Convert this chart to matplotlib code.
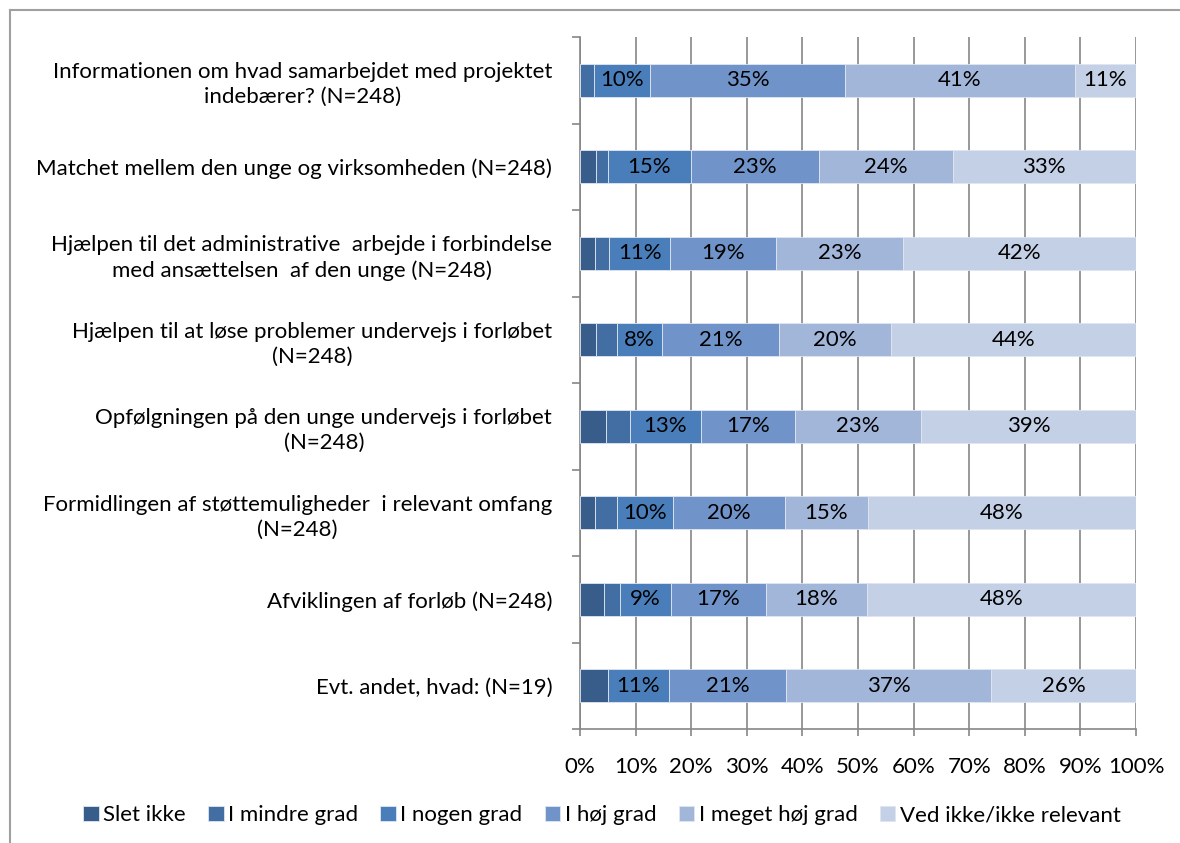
import matplotlib
matplotlib.use('Agg')
import matplotlib.pyplot as plt
from matplotlib.lines import Line2D
import numpy as np

plt.rcParams['font.family'] = ['Lato', 'DejaVu Sans']

categories = [
    'Informationen om hvad samarbejdet med projektet\nindebærer? (N=248)',
    'Matchet mellem den unge og virksomheden (N=248)',
    'Hjælpen til det administrative  arbejde i forbindelse\nmed ansættelsen  af den unge (N=248)',
    'Hjælpen til at løse problemer undervejs i forløbet\n(N=248)',
    'Opfølgningen på den unge undervejs i forløbet\n(N=248)',
    'Formidlingen af støttemuligheder  i relevant omfang\n(N=248)',
    'Afviklingen af forløb (N=248)',
    'Evt. andet, hvad: (N=19)',
]
series = ['Slet ikke', 'I mindre grad', 'I nogen grad', 'I høj grad',
          'I meget høj grad', 'Ved ikke/ikke relevant']

slet_ikke = [0.0, 2.9, 2.7, 2.9, 4.7, 2.7, 4.3, 5.0]
mindre_grad = [2.5, 2.1, 2.6, 3.8, 4.3, 4.0, 2.9, 0.0]
nogen_grad = [10, 15, 11, 8, 13, 10, 9, 11]
hoej_grad = [35, 23, 19, 21, 17, 20, 17, 21]
meget_hoej_grad = [41, 24, 23, 20, 23, 15, 18, 37]
ved_ikke = [11, 33, 42, 44, 39, 48, 48, 26]

colors = ['#385d8a', '#426ea3', '#4a7ebb', '#7094c9', '#a2b6d9', '#c4d0e6']

data = np.array([slet_ikke, mindre_grad, nogen_grad, hoej_grad,
                 meget_hoej_grad, ved_ikke], dtype=float)
# 100% stacked, like the original chart
shares = data / data.sum(axis=0) * 100

fs = 16

fig = plt.figure(figsize=(11.8, 8.43), dpi=100)
ax = fig.add_axes([0.4915, 0.1352, 0.4712, 0.8209])

y = np.arange(len(categories))
left = np.zeros(len(categories))
for i, name in enumerate(series):
    bars = ax.barh(y, shares[i], left=left, height=0.38, color=colors[i],
                   edgecolor='#dfe6f1', linewidth=0.6, label=name, zorder=3)
    for j, bar in enumerate(bars):
        if data[i, j] >= 7:
            ax.text(left[j] + shares[i, j] / 2, y[j], '{:.0f}%'.format(data[i, j]),
                    ha='center', va='center', fontsize=fs, color='black', zorder=4)
    left += shares[i]

ax.set_xlim(0, 100)
ax.set_ylim(len(categories) - 0.5, -0.5)
ax.set_xticks(np.arange(0, 101, 10))
ax.set_xticklabels(['{}%'.format(v) for v in range(0, 101, 10)], fontsize=fs)
ax.set_yticks(y)
ax.set_yticklabels(categories, fontsize=fs, multialignment='center', linespacing=1.3)
ax.set_yticks(np.arange(len(categories) + 1) - 0.5, minor=True)
ax.tick_params(axis='y', which='major', length=0, pad=20)
ax.tick_params(axis='y', which='minor', length=6, width=1.2, color='#868686')
ax.tick_params(axis='x', length=5, width=1.2, color='#868686', pad=15)

ax.grid(True, axis='x', color='#868686', linewidth=1.2, zorder=0)
for side in ['top', 'right']:
    ax.spines[side].set_visible(False)
for side in ['left', 'bottom']:
    ax.spines[side].set_color('#868686')
    ax.spines[side].set_linewidth(1.2)

fig.legend(loc='center', bbox_to_anchor=(0.51, 0.033), ncol=6, frameon=False,
           fontsize=fs, handlelength=0.7, handleheight=0.7, handletextpad=0.2,
           columnspacing=1.0)

# outer chart border
fig.add_artist(Line2D([10 / 1180, 1], [1 - 10 / 843, 1 - 10 / 843], color='#a0a0a0', linewidth=1.5))
fig.add_artist(Line2D([10 / 1180, 10 / 1180], [0, 1 - 10 / 843], color='#a0a0a0', linewidth=1.5))

plt.savefig('out.png', dpi=100)
